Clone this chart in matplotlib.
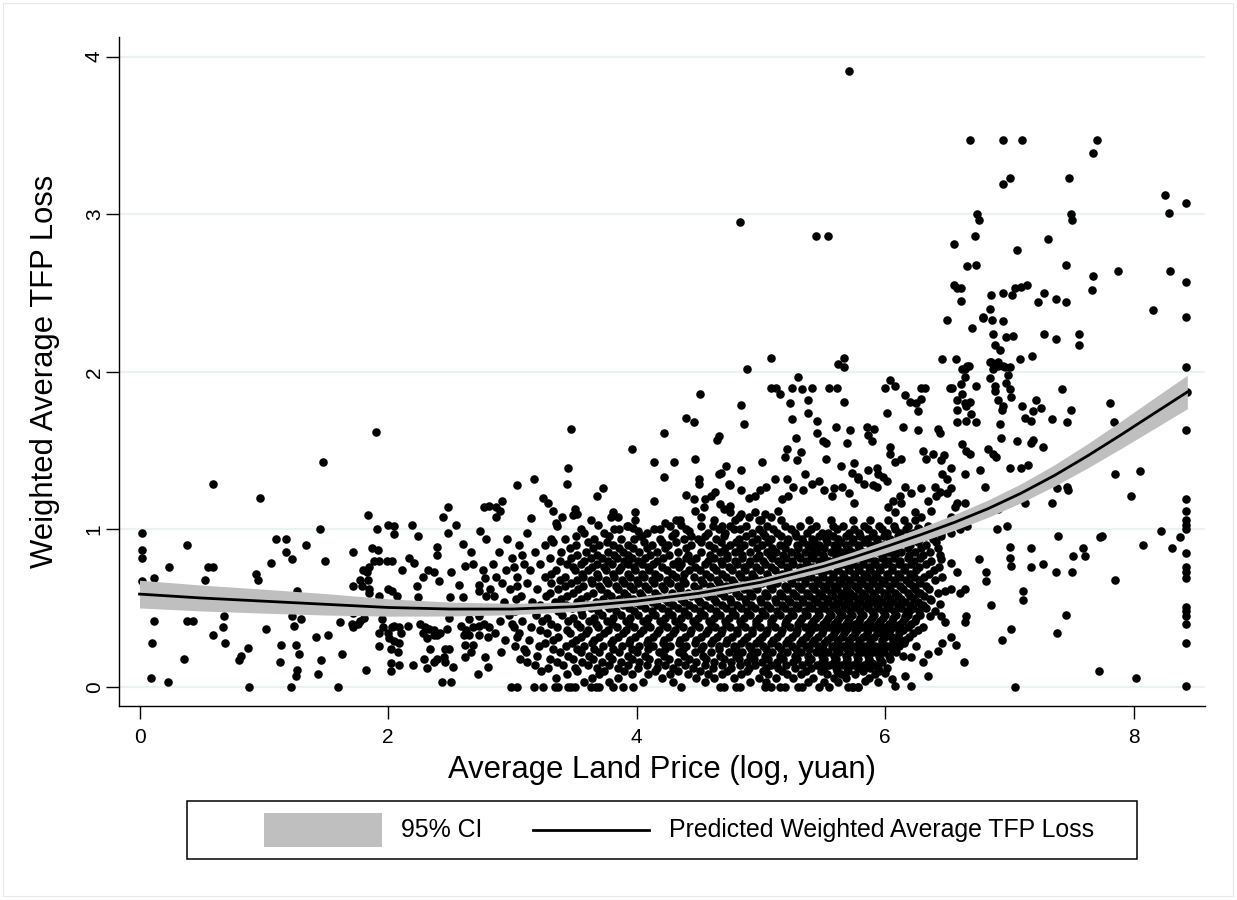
import matplotlib
matplotlib.use("Agg")
import matplotlib.pyplot as plt
from matplotlib.patches import Rectangle
from matplotlib.lines import Line2D

plt.rcParams["font.family"] = ["Liberation Sans", "DejaVu Sans"]

# ---- data ------------------------------------------------------------------

# sparse points above y ~ 1.9
upper_pts = [
    (5.71, 3.91), (4.83, 2.95), (5.44, 2.86), (5.54, 2.86), (5.08, 2.09), (4.89, 2.02),
    (5.67, 2.09), (5.62, 2.05), (5.67, 2.03), (6.68, 3.47), (6.95, 3.47), (7.10, 3.47),
    (7.70, 3.47), (7.67, 3.39), (7.00, 3.23), (6.95, 3.19), (7.48, 3.23), (8.25, 3.12),
    (8.42, 3.07), (8.28, 3.01), (6.74, 3.00), (6.75, 2.96), (7.49, 3.00), (7.50, 2.96),
    (6.72, 2.86), (6.55, 2.81), (7.31, 2.84), (7.06, 2.77), (6.66, 2.67), (6.73, 2.68),
    (7.45, 2.68), (7.87, 2.64), (8.29, 2.64), (7.67, 2.61), (8.42, 2.57), (6.55, 2.55),
    (6.58, 2.53), (6.61, 2.53), (6.61, 2.45), (6.85, 2.49), (6.95, 2.50), (7.02, 2.49),
    (7.04, 2.53), (7.09, 2.54), (7.14, 2.55), (7.28, 2.50), (7.23, 2.44), (7.37, 2.46),
    (7.45, 2.44), (7.66, 2.52), (8.15, 2.39), (8.42, 2.35), (6.50, 2.33), (6.70, 2.28),
    (6.84, 2.40), (6.79, 2.35), (6.79, 2.34), (6.86, 2.33), (6.95, 2.32), (6.87, 2.24),
    (6.97, 2.22), (7.03, 2.23), (7.28, 2.24), (7.37, 2.21), (7.56, 2.24), (7.56, 2.17),
    (6.88, 2.17), (6.92, 2.14), (6.46, 2.08), (6.57, 2.08), (6.67, 2.04), (6.64, 2.02),
    (6.85, 2.06), (6.91, 2.06), (6.95, 2.04), (7.00, 2.03), (7.08, 2.08), (7.18, 2.10),
    (8.42, 2.03),
]

# points with x below ~2.85
left_pts = [
    (1.90, 1.62), (1.48, 1.43), (0.59, 1.29), (0.97, 1.20), (1.84, 1.09), (0.02, 0.98),
    (1.45, 1.00), (1.91, 1.00), (2.00, 1.03), (2.05, 1.02), (2.05, 0.97), (2.19, 1.03),
    (2.24, 0.96), (2.44, 1.08), (2.48, 1.14), (2.55, 1.03), (2.48, 0.98), (2.74, 0.99),
    (2.77, 1.14), (2.81, 1.15), (2.79, 0.94), (0.02, 0.87), (0.02, 0.82), (0.02, 0.67),
    (0.12, 0.69), (0.38, 0.90), (0.24, 0.76), (0.55, 0.76), (0.59, 0.76), (0.53, 0.68),
    (0.94, 0.72), (0.95, 0.68), (1.06, 0.79), (1.10, 0.94), (1.18, 0.94), (1.18, 0.86),
    (1.23, 0.81), (1.34, 0.90), (1.49, 0.80), (1.72, 0.86), (1.87, 0.88), (1.92, 0.87),
    (1.89, 0.80), (1.93, 0.80), (1.99, 0.80), (2.03, 0.80), (1.85, 0.76), (1.80, 0.74),
    (1.83, 0.73), (1.77, 0.68), (1.84, 0.68), (1.72, 0.64), (1.79, 0.64), (1.85, 0.62),
    (1.85, 0.60), (1.93, 0.58), (2.00, 0.62), (2.03, 0.61), (2.11, 0.74), (2.17, 0.82),
    (2.21, 0.79), (2.23, 0.64), (2.24, 0.57), (2.28, 0.70), (2.32, 0.74), (2.37, 0.73),
    (2.39, 0.89), (2.39, 0.84), (2.41, 0.67), (2.51, 0.73), (2.50, 0.57), (2.57, 0.65),
    (2.60, 0.57), (2.60, 0.91), (2.67, 0.86), (2.62, 0.77), (2.68, 0.78), (2.76, 0.74),
    (2.78, 0.69), (2.73, 0.65), (2.73, 0.61), (2.79, 0.58), (2.82, 0.62), (2.07, 0.58),
    (1.27, 0.61),
    (0.12, 0.42), (0.10, 0.28), (0.09, 0.06), (0.23, 0.03), (0.36, 0.18), (0.38, 0.42),
    (0.43, 0.42), (0.68, 0.45), (0.67, 0.38), (0.59, 0.33), (0.69, 0.28), (0.87, 0.25),
    (0.82, 0.20), (0.80, 0.17), (0.88, 0.00), (1.02, 0.37), (1.23, 0.45), (1.24, 0.39),
    (1.30, 0.43), (1.14, 0.27), (1.13, 0.16), (1.26, 0.27), (1.28, 0.21), (1.27, 0.11),
    (1.26, 0.07), (1.22, 0.00), (1.42, 0.32), (1.52, 0.33), (1.46, 0.17), (1.44, 0.08),
    (1.60, 0.00), (1.61, 0.41), (1.63, 0.21), (1.72, 0.47), (1.71, 0.40), (1.72, 0.38),
    (1.76, 0.40), (1.77, 0.42), (1.81, 0.44), (1.82, 0.11), (1.95, 0.43), (1.96, 0.38),
    (1.93, 0.34), (1.93, 0.26), (2.00, 0.34), (2.01, 0.31), (2.05, 0.39), (2.03, 0.38),
    (2.09, 0.38), (2.10, 0.34), (2.05, 0.29), (2.09, 0.28), (2.16, 0.39), (2.02, 0.24),
    (2.08, 0.22), (2.02, 0.15), (2.02, 0.10), (2.09, 0.14), (2.20, 0.14), (2.26, 0.40),
    (2.30, 0.38), (2.33, 0.37), (2.37, 0.36), (2.42, 0.34), (2.28, 0.34), (2.31, 0.31),
    (2.37, 0.33), (2.39, 0.33), (2.47, 0.37), (2.34, 0.24), (2.29, 0.18), (2.31, 0.12),
    (2.37, 0.16), (2.39, 0.18), (2.46, 0.24), (2.49, 0.24), (2.45, 0.19), (2.46, 0.16),
    (2.52, 0.13), (2.43, 0.03), (2.51, 0.03), (2.49, 0.44), (2.59, 0.39), (2.61, 0.33),
    (2.63, 0.36), (2.65, 0.43), (2.68, 0.38), (2.65, 0.33), (2.62, 0.27), (2.68, 0.27),
    (2.67, 0.22), (2.62, 0.19), (2.73, 0.45), (2.73, 0.39), (2.77, 0.40), (2.81, 0.38),
    (2.73, 0.33), (2.80, 0.32), (2.78, 0.19), (2.80, 0.13), (2.72, 0.08),
]

# sparse points above the dense cloud, x 2.85 to 6.7
mid_pts = [
    (5.30, 1.97), (5.08, 1.90), (5.12, 1.90), (5.15, 1.86), (5.25, 1.90), (5.33, 1.89),
    (5.41, 1.90), (5.55, 1.90), (5.61, 1.90), (4.51, 1.86), (4.84, 1.79), (4.86, 1.67),
    (5.23, 1.80), (5.38, 1.82), (5.38, 1.74), (5.67, 1.81), (4.40, 1.71), (4.46, 1.68),
    (5.25, 1.70), (5.45, 1.69), (5.60, 1.65), (5.72, 1.63), (3.47, 1.64), (4.22, 1.61),
    (4.66, 1.59), (4.65, 1.57), (5.28, 1.58), (5.45, 1.61), (5.50, 1.56), (5.52, 1.55),
    (5.69, 1.55), (3.96, 1.51), (5.21, 1.51), (5.19, 1.46), (5.32, 1.49), (5.29, 1.44),
    (5.52, 1.45), (4.14, 1.43), (4.30, 1.43), (4.47, 1.45), (5.01, 1.43), (4.72, 1.40),
    (4.68, 1.36), (4.66, 1.35), (4.84, 1.38), (5.64, 1.40), (5.75, 1.42), (3.45, 1.39),
    (3.44, 1.29), (3.17, 1.32), (3.04, 1.28), (3.15, 1.07), (3.73, 1.26), (3.68, 1.21),
    (4.22, 1.33), (4.50, 1.32), (4.50, 1.29), (4.74, 1.29), (4.75, 1.28), (4.84, 1.25),
    (4.14, 1.18), (4.40, 1.22), (4.46, 1.19), (2.92, 1.18), (2.87, 1.14), (2.87, 1.08),
    (2.90, 1.12), (3.25, 1.20), (3.29, 1.17), (3.33, 1.12), (3.40, 1.08), (3.35, 1.04),
    (3.31, 0.94), (3.50, 1.13), (3.52, 1.10), (3.49, 1.09), (3.63, 1.06), (3.69, 1.03),
    (3.81, 1.11), (3.79, 1.08), (3.85, 1.08), (3.99, 1.11), (3.99, 1.06), (3.93, 1.02),
    (3.97, 1.01), (4.01, 0.99), (4.04, 0.96), (3.82, 1.00), (4.23, 1.04), (4.32, 1.06),
    (4.36, 1.03), (4.42, 0.99), (4.14, 1.00), (4.47, 1.12), (4.52, 1.08), (4.54, 1.14),
    (4.55, 1.19), (4.60, 1.21), (4.63, 1.24), (4.67, 1.16), (4.70, 1.13), (4.75, 1.15),
    (4.75, 1.11), (4.52, 1.02), (4.69, 1.02), (4.75, 1.02), (4.78, 1.00), (4.82, 1.08),
    (4.84, 1.10), (4.90, 1.20), (4.95, 1.21), (4.99, 1.25), (5.04, 1.27), (5.11, 1.32),
    (4.95, 1.11), (4.90, 1.08), (4.98, 1.06), (5.03, 1.10), (5.08, 1.08), (5.14, 1.12),
    (5.17, 1.19), (5.22, 1.21), (5.26, 1.27), (5.21, 1.32), (5.34, 1.25), (5.35, 1.35),
    (5.41, 1.29), (5.47, 1.31), (5.51, 1.25), (5.57, 1.21), (5.59, 1.26), (5.65, 1.27),
    (5.71, 1.23), (5.75, 1.17), (5.78, 1.32),
    (6.00, 1.90), (6.04, 1.95), (6.08, 1.91), (6.29, 1.90), (6.32, 1.90), (6.52, 1.90),
    (6.54, 1.90), (6.62, 2.02), (6.66, 2.04), (6.64, 1.97), (6.61, 1.92), (6.62, 1.86),
    (6.73, 1.91), (6.84, 2.06), (6.87, 2.02), (6.91, 2.04), (6.96, 2.03), (6.99, 1.98),
    (6.97, 1.93), (6.88, 1.91), (6.84, 1.96), (6.16, 1.85), (6.20, 1.81), (6.25, 1.80),
    (6.29, 1.83), (6.26, 1.75), (6.01, 1.74), (6.58, 1.82), (6.64, 1.80), (6.68, 1.81),
    (6.65, 1.78), (6.69, 1.73), (6.58, 1.76), (6.65, 1.69), (6.73, 1.68), (6.58, 1.68),
    (6.88, 1.88), (6.91, 1.82), (6.95, 1.78), (5.85, 1.65), (5.91, 1.64), (5.86, 1.60),
    (5.89, 1.56), (6.14, 1.65), (6.26, 1.63), (6.42, 1.64), (6.44, 1.61), (6.62, 1.54),
    (6.65, 1.50), (6.68, 1.48), (6.83, 1.51), (6.87, 1.48), (6.89, 1.46), (6.76, 1.38),
    (6.64, 1.35), (6.53, 1.39), (6.46, 1.35), (6.50, 1.32), (6.45, 1.44), (6.47, 1.47),
    (6.38, 1.48), (6.30, 1.50), (6.33, 1.45), (6.04, 1.52), (6.04, 1.48), (6.08, 1.43),
    (6.13, 1.45), (5.93, 1.39), (5.94, 1.35), (5.98, 1.33), (6.01, 1.31), (5.86, 1.38),
    (5.73, 1.36), (5.78, 1.33), (5.83, 1.29), (5.90, 1.28), (5.93, 1.27),
    (6.53, 1.26), (6.58, 1.17), (6.64, 1.17), (6.56, 1.14), (6.50, 1.23), (6.40, 1.27),
    (6.44, 1.24), (6.41, 1.21), (6.34, 1.18), (6.29, 1.26), (6.21, 1.23), (6.16, 1.27),
    (6.12, 1.21), (6.06, 1.18), (6.02, 1.14), (6.08, 1.11), (6.13, 1.17), (6.24, 1.11),
    (6.29, 1.08), (6.37, 1.12), (6.53, 1.08), (6.61, 1.07), (6.66, 1.02), (6.60, 1.00),
    (6.53, 0.98), (6.45, 0.98), (6.40, 1.00), (6.34, 1.02), (6.26, 1.01),
]

# points right of the cloud, x above ~6.3
right_pts = [
    (7.42, 1.89), (8.43, 1.87), (7.81, 1.80), (7.84, 1.68), (8.42, 1.63), (7.49, 1.76),
    (7.46, 1.68), (7.34, 1.70), (7.21, 1.82), (7.25, 1.77), (7.19, 1.75), (7.17, 1.69),
    (7.12, 1.71), (7.10, 1.78), (7.01, 1.84), (6.94, 1.76), (7.00, 1.89), (6.92, 1.67),
    (6.93, 1.58), (7.06, 1.56), (7.17, 1.55), (7.19, 1.57), (7.27, 1.52), (7.15, 1.41),
    (7.09, 1.39), (7.00, 1.39), (7.85, 1.35), (8.05, 1.37), (7.98, 1.21), (8.42, 1.19),
    (8.42, 1.12), (8.42, 1.06), (8.42, 1.03), (8.42, 1.00), (8.37, 0.95), (8.31, 0.88),
    (8.22, 0.99), (8.07, 0.90), (8.42, 0.85), (8.42, 0.76), (8.42, 0.73), (8.42, 0.69),
    (8.42, 0.51), (8.42, 0.48), (8.42, 0.45), (8.42, 0.40), (8.42, 0.28), (8.42, 0.01),
    (7.74, 0.96), (7.73, 0.95), (7.85, 0.68), (8.02, 0.06), (7.72, 0.10), (7.45, 0.46),
    (7.38, 0.34), (7.39, 0.96), (7.34, 1.17), (7.46, 1.27), (7.47, 1.25), (7.38, 1.26),
    (7.17, 0.88), (7.17, 0.76), (7.27, 0.78), (7.37, 0.73), (7.50, 0.73), (7.51, 0.83),
    (7.59, 0.88), (7.61, 0.83), (7.00, 0.89), (7.00, 0.82), (7.01, 0.77), (7.11, 0.61),
    (7.11, 0.55), (6.98, 1.02), (6.90, 1.00), (6.85, 0.52), (6.81, 0.73), (6.81, 0.67),
    (6.75, 0.81), (7.01, 0.37), (6.94, 0.30), (7.04, 0.00), (7.12, 1.17), (6.80, 1.27),
    (6.91, 1.13), (6.76, 1.10), (6.63, 0.16), (6.65, 0.45), (6.64, 0.41),
    (6.45, 0.81), (6.53, 0.79), (6.58, 0.73), (6.46, 0.70), (6.53, 0.62), (6.48, 0.61),
    (6.64, 0.62), (6.60, 0.60), (6.44, 0.53), (6.37, 0.55), (6.36, 0.45), (6.45, 0.45),
    (6.48, 0.41), (6.53, 0.32), (6.57, 0.27), (6.46, 0.28), (6.42, 0.23), (6.34, 0.21),
    (6.30, 0.16), (6.34, 0.07), (6.21, 0.01), (6.08, 0.01), (6.16, 0.07), (6.05, 0.05),
    (6.00, 0.09), (5.94, 0.12), (5.89, 0.15), (5.84, 0.04), (5.78, 0.00), (5.73, 0.00),
    (6.21, 0.19), (6.25, 0.26), (6.13, 0.28), (6.05, 0.32), (5.97, 0.34), (6.09, 0.39),
    (6.16, 0.45), (6.20, 0.49), (6.29, 0.52), (6.26, 0.60),
]

# observations sitting on zero
zero_x = [2.99, 3.04, 3.17, 3.25, 3.34, 3.37, 3.45, 3.47, 3.50, 3.63, 3.67, 3.70,
          3.81, 3.89, 3.97, 4.36, 4.67, 4.70, 4.80, 4.83, 5.03, 5.08, 5.15, 5.19,
          5.30, 5.33, 5.47, 5.55, 5.70, 5.74, 5.78]

# the dense cloud, estimated row by row (y level -> x positions)
cloud_y = [1.02, 0.98, 0.94, 0.90, 0.86, 0.82, 0.78, 0.74, 0.70, 0.66, 0.62, 0.58,
           0.54, 0.50, 0.46, 0.42, 0.38, 0.34, 0.30, 0.26, 0.22, 0.18, 0.14, 0.10, 0.06]
cloud_x = [
    [3.36, 3.92, 4.27, 4.61, 4.88, 5.05, 5.19, 5.31, 5.44, 5.58, 5.66, 5.83, 5.95, 6.07, 6.18],
    [3.12, 3.58, 3.74, 4.08, 4.31, 4.57, 4.71, 4.93, 5.02, 5.13, 5.27, 5.37, 5.49, 5.54, 5.71,
     5.79, 5.90, 6.01, 6.12, 6.22, 6.31],
    [2.96, 3.42, 3.66, 3.87, 3.98, 4.19, 4.38, 4.49, 4.64, 4.82, 4.97, 5.08, 5.22, 5.33, 5.41,
     5.52, 5.62, 5.74, 5.85, 5.93, 6.04, 6.16, 6.27, 6.38],
    [3.05, 3.26, 3.51, 3.70, 3.81, 3.93, 4.12, 4.25, 4.44, 4.58, 4.75, 4.86, 5.01, 5.15, 5.29,
     5.38, 5.47, 5.59, 5.68, 5.78, 5.88, 5.98, 6.09, 6.20, 6.33],
    [2.89, 3.18, 3.39, 3.59, 3.77, 3.89, 4.02, 4.16, 4.33, 4.52, 4.67, 4.79, 4.91, 5.05, 5.12,
     5.24, 5.35, 5.45, 5.56, 5.65, 5.73, 5.83, 5.94, 6.03, 6.13, 6.24, 6.36],
    [3.00, 3.30, 3.47, 3.63, 3.72, 3.84, 3.96, 4.07, 4.21, 4.40, 4.48, 4.62, 4.73, 4.85, 4.96,
     5.09, 5.20, 5.31, 5.42, 5.51, 5.60, 5.69, 5.77, 5.87, 5.97, 6.07, 6.18, 6.28],
    [2.84, 3.09, 3.22, 3.44, 3.55, 3.68, 3.80, 3.93, 4.04, 4.13, 4.29, 4.36, 4.55, 4.69, 4.81,
     4.90, 5.03, 5.16, 5.26, 5.37, 5.48, 5.57, 5.66, 5.74, 5.82, 5.91, 6.00, 6.11, 6.21, 6.33],
    [2.95, 3.14, 3.35, 3.50, 3.61, 3.75, 3.86, 3.99, 4.10, 4.24, 4.42, 4.51, 4.64, 4.77, 4.87,
     4.99, 5.11, 5.22, 5.34, 5.44, 5.53, 5.62, 5.71, 5.79, 5.88, 5.96, 6.05, 6.15, 6.25, 6.39],
    [2.87, 3.04, 3.26, 3.42, 3.57, 3.69, 3.82, 3.95, 4.06, 4.18, 4.32, 4.46, 4.59, 4.72, 4.84,
     4.94, 5.06, 5.18, 5.30, 5.40, 5.50, 5.58, 5.67, 5.76, 5.85, 5.93, 6.02, 6.12, 6.23, 6.31],
    [2.92, 3.12, 3.31, 3.47, 3.64, 3.77, 3.90, 4.01, 4.14, 4.27, 4.39, 4.53, 4.66, 4.78, 4.89,
     5.01, 5.13, 5.25, 5.35, 5.46, 5.55, 5.64, 5.72, 5.81, 5.90, 5.99, 6.08, 6.19, 6.28],
    [2.98, 3.20, 3.37, 3.53, 3.71, 3.85, 3.97, 4.09, 4.22, 4.35, 4.49, 4.61, 4.74, 4.86, 4.97,
     5.09, 5.21, 5.32, 5.43, 5.52, 5.61, 5.69, 5.78, 5.87, 5.95, 6.04, 6.14, 6.24, 6.35],
    [2.85, 3.07, 3.27, 3.44, 3.60, 3.79, 3.92, 4.04, 4.17, 4.30, 4.44, 4.57, 4.70, 4.82, 4.93,
     5.05, 5.17, 5.28, 5.39, 5.49, 5.58, 5.66, 5.75, 5.84, 5.92, 6.01, 6.10, 6.20, 6.31],
    [2.93, 3.16, 3.34, 3.52, 3.67, 3.83, 3.99, 4.12, 4.25, 4.38, 4.51, 4.64, 4.76, 4.88, 5.00,
     5.12, 5.23, 5.34, 5.45, 5.54, 5.63, 5.71, 5.80, 5.89, 5.97, 6.06, 6.16, 6.26],
    [2.88, 3.10, 3.29, 3.48, 3.63, 3.78, 3.94, 4.07, 4.20, 4.33, 4.46, 4.59, 4.72, 4.84, 4.95,
     5.07, 5.19, 5.30, 5.41, 5.51, 5.60, 5.68, 5.77, 5.86, 5.94, 6.03, 6.13, 6.22, 6.33],
    [2.97, 3.19, 3.40, 3.56, 3.72, 3.87, 4.01, 4.15, 4.28, 4.41, 4.54, 4.67, 4.79, 4.91, 5.03,
     5.15, 5.26, 5.37, 5.47, 5.56, 5.65, 5.73, 5.82, 5.91, 6.00, 6.09, 6.18, 6.28],
    [2.90, 3.08, 3.24, 3.45, 3.62, 3.76, 3.91, 4.05, 4.19, 4.31, 4.45, 4.58, 4.71, 4.83, 4.96,
     5.08, 5.20, 5.31, 5.42, 5.52, 5.61, 5.70, 5.79, 5.88, 5.96, 6.05, 6.14, 6.24],
    [3.01, 3.15, 3.36, 3.54, 3.69, 3.84, 3.98, 4.11, 4.24, 4.37, 4.50, 4.63, 4.75, 4.87, 4.99,
     5.11, 5.23, 5.35, 5.44, 5.55, 5.64, 5.72, 5.81, 5.90, 5.99, 6.08, 6.18, 6.30],
    [2.86, 3.05, 3.28, 3.46, 3.59, 3.74, 3.89, 4.03, 4.16, 4.29, 4.43, 4.56, 4.68, 4.81, 4.93,
     5.04, 5.16, 5.28, 5.39, 5.49, 5.59, 5.67, 5.76, 5.85, 5.93, 6.02, 6.11, 6.22],
    [2.94, 3.13, 3.33, 3.51, 3.66, 3.81, 3.95, 4.09, 4.22, 4.35, 4.48, 4.61, 4.73, 4.86, 4.98,
     5.10, 5.22, 5.33, 5.43, 5.53, 5.62, 5.71, 5.79, 5.88, 5.97, 6.06, 6.16],
    [3.02, 3.21, 3.43, 3.58, 3.73, 3.88, 4.02, 4.13, 4.27, 4.40, 4.53, 4.66, 4.78, 4.90, 5.02,
     5.14, 5.25, 5.36, 5.46, 5.57, 5.66, 5.74, 5.83, 5.92, 6.01, 6.11],
    [2.91, 3.11, 3.38, 3.55, 3.70, 3.86, 4.00, 4.18, 4.34, 4.47, 4.60, 4.74, 4.85, 4.97, 5.09,
     5.21, 5.32, 5.44, 5.54, 5.63, 5.72, 5.81, 5.90, 5.99, 6.09],
    [3.06, 3.30, 3.49, 3.65, 3.80, 3.96, 4.10, 4.26, 4.42, 4.56, 4.70, 4.82, 4.94, 5.06, 5.18,
     5.29, 5.40, 5.51, 5.60, 5.69, 5.78, 5.87, 5.96, 6.04],
    [3.18, 3.41, 3.61, 3.78, 3.93, 4.08, 4.23, 4.39, 4.55, 4.69, 4.83, 4.95, 5.08, 5.20, 5.33,
     5.45, 5.55, 5.64, 5.73, 5.83, 5.92],
    [3.23, 3.52, 3.74, 3.90, 4.15, 4.33, 4.51, 4.73, 4.89, 5.02, 5.17, 5.36, 5.48, 5.61, 5.70,
     5.82, 5.95],
    [3.35, 3.64, 3.85, 4.20, 4.48, 4.62, 4.78, 4.98, 5.12, 5.26, 5.42, 5.59, 5.68, 5.87],
]

# second, staggered pass over the cloud where it is densest
cloud2_y = [1.06, 1.00, 0.96, 0.92, 0.88, 0.84, 0.80, 0.76, 0.72, 0.68, 0.64, 0.60,
            0.56, 0.52, 0.48, 0.44, 0.40, 0.36, 0.32, 0.28, 0.24, 0.20, 0.16, 0.12,
            0.08, 0.03]
cloud2_x = [
    [4.35, 4.62, 4.79, 5.00, 5.16, 5.39, 5.56, 5.74, 5.88, 6.02, 6.15, 6.24],
    [3.55, 3.86, 4.19, 4.40, 4.66, 4.83, 4.98, 5.10, 5.24, 5.40, 5.61, 5.75, 5.86, 5.97, 6.08,
     6.17, 6.27],
    [3.51, 3.78, 4.03, 4.28, 4.44, 4.55, 4.70, 4.88, 5.03, 5.16, 5.28, 5.47, 5.58, 5.68, 5.80,
     5.89, 5.99, 6.10, 6.21, 6.32, 6.45],
    [3.33, 3.61, 3.76, 4.06, 4.20, 4.32, 4.52, 4.68, 4.80, 4.93, 5.06, 5.21, 5.34, 5.43, 5.53,
     5.64, 5.73, 5.83, 5.93, 6.04, 6.14, 6.26, 6.41],
    [3.46, 3.65, 3.86, 3.97, 4.08, 4.23, 4.40, 4.62, 4.71, 4.83, 4.97, 5.09, 5.19, 5.30, 5.41,
     5.51, 5.61, 5.70, 5.79, 5.89, 5.99, 6.08, 6.18, 6.29, 6.42],
    [3.08, 3.52, 3.68, 3.82, 3.93, 4.11, 4.26, 4.41, 4.59, 4.73, 4.85, 4.98, 5.07, 5.18, 5.29,
     5.40, 5.50, 5.60, 5.68, 5.78, 5.88, 5.98, 6.08, 6.19, 6.30, 6.44],
    [3.38, 3.58, 3.77, 3.90, 4.01, 4.16, 4.33, 4.44, 4.57, 4.68, 4.79, 4.91, 5.02, 5.14, 5.25,
     5.36, 5.47, 5.55, 5.64, 5.73, 5.82, 5.92, 6.02, 6.12, 6.23, 6.37],
    [3.01, 3.49, 3.64, 3.74, 3.87, 3.98, 4.09, 4.20, 4.34, 4.47, 4.61, 4.74, 4.86, 4.96, 5.08,
     5.21, 5.31, 5.42, 5.53, 5.61, 5.70, 5.78, 5.87, 5.95, 6.05, 6.16, 6.27, 6.43],
    [3.31, 3.56, 3.68, 3.81, 3.93, 4.04, 4.15, 4.28, 4.38, 4.56, 4.69, 4.82, 4.93, 5.05, 5.17,
     5.28, 5.39, 5.49, 5.58, 5.66, 5.75, 5.83, 5.92, 6.01, 6.10, 6.20, 6.35],
    [3.38, 3.52, 3.63, 3.75, 3.88, 4.00, 4.12, 4.24, 4.37, 4.52, 4.65, 4.77, 4.89, 5.00, 5.12,
     5.24, 5.35, 5.45, 5.55, 5.63, 5.71, 5.80, 5.89, 5.97, 6.07, 6.17, 6.27, 6.40],
    [3.04, 3.42, 3.57, 3.70, 3.83, 3.95, 4.07, 4.20, 4.33, 4.46, 4.59, 4.72, 4.84, 4.95, 5.07,
     5.19, 5.30, 5.41, 5.50, 5.59, 5.68, 5.76, 5.85, 5.94, 6.03, 6.12, 6.22, 6.33],
    [3.30, 3.49, 3.65, 3.76, 3.90, 4.03, 4.15, 4.28, 4.41, 4.54, 4.67, 4.80, 4.91, 5.03, 5.15,
     5.26, 5.37, 5.47, 5.56, 5.64, 5.72, 5.81, 5.90, 5.99, 6.08, 6.18, 6.28, 6.42],
    [3.03, 3.39, 3.55, 3.73, 3.86, 3.97, 4.10, 4.23, 4.36, 4.49, 4.62, 4.75, 4.87, 4.99, 5.11,
     5.22, 5.33, 5.43, 5.53, 5.61, 5.69, 5.78, 5.86, 5.95, 6.04, 6.13, 6.23, 6.36],
    [3.22, 3.43, 3.60, 3.75, 3.89, 4.03, 4.16, 4.29, 4.42, 4.55, 4.69, 4.81, 4.92, 5.05, 5.17,
     5.28, 5.39, 5.49, 5.58, 5.67, 5.75, 5.84, 5.93, 6.01, 6.10, 6.20, 6.30],
    [3.02, 3.37, 3.55, 3.69, 3.83, 3.98, 4.12, 4.25, 4.38, 4.51, 4.64, 4.77, 4.89, 5.01, 5.13,
     5.24, 5.35, 5.46, 5.55, 5.63, 5.72, 5.80, 5.89, 5.98, 6.07, 6.17, 6.27, 6.40],
    [3.28, 3.49, 3.66, 3.81, 3.95, 4.09, 4.23, 4.36, 4.49, 4.62, 4.74, 4.86, 4.98, 5.10, 5.22,
     5.33, 5.44, 5.54, 5.63, 5.71, 5.80, 5.89, 5.98, 6.06, 6.16, 6.25],
    [3.00, 3.31, 3.52, 3.67, 3.80, 3.94, 4.08, 4.21, 4.34, 4.47, 4.60, 4.72, 4.84, 4.96, 5.08,
     5.19, 5.30, 5.40, 5.50, 5.59, 5.68, 5.76, 5.85, 5.94, 6.03, 6.12, 6.21],
    [3.22, 3.44, 3.61, 3.77, 3.91, 4.05, 4.18, 4.31, 4.44, 4.57, 4.69, 4.81, 4.93, 5.05, 5.17,
     5.29, 5.40, 5.50, 5.60, 5.68, 5.77, 5.86, 5.95, 6.04, 6.14, 6.26],
    [3.04, 3.37, 3.55, 3.70, 3.85, 3.99, 4.13, 4.26, 4.39, 4.52, 4.65, 4.77, 4.89, 5.01, 5.13,
     5.25, 5.36, 5.46, 5.56, 5.65, 5.73, 5.82, 5.91, 6.00, 6.10, 6.19],
    [3.26, 3.48, 3.64, 3.79, 3.94, 4.08, 4.21, 4.34, 4.47, 4.60, 4.72, 4.84, 4.96, 5.08, 5.20,
     5.31, 5.41, 5.51, 5.61, 5.70, 5.79, 5.88, 5.97, 6.06, 6.15],
    [3.09, 3.33, 3.52, 3.66, 3.81, 3.96, 4.09, 4.23, 4.37, 4.52, 4.66, 4.80, 4.92, 5.04, 5.16,
     5.28, 5.39, 5.50, 5.60, 5.69, 5.78, 5.87, 5.96, 6.05],
    [3.20, 3.45, 3.62, 3.78, 3.93, 4.07, 4.22, 4.38, 4.53, 4.67, 4.80, 4.91, 5.03, 5.15, 5.27,
     5.38, 5.49, 5.59, 5.68, 5.77, 5.86, 5.95, 6.03, 6.14],
    [3.12, 3.36, 3.56, 3.72, 3.87, 4.02, 4.17, 4.33, 4.48, 4.62, 4.76, 4.89, 5.01, 5.13, 5.26,
     5.38, 5.49, 5.59, 5.68, 5.77, 5.86, 5.97],
    [3.29, 3.50, 3.68, 3.85, 4.01, 4.16, 4.29, 4.45, 4.61, 4.76, 4.90, 5.04, 5.14, 5.27, 5.40,
     5.51, 5.60, 5.69, 5.78, 5.88, 6.01],
    [3.44, 3.70, 3.96, 4.09, 4.27, 4.41, 4.57, 4.69, 4.84, 5.06, 5.21, 5.32, 5.53, 5.64, 5.76,
     5.92],
    [3.58, 3.78, 4.05, 4.29, 4.55, 4.91, 5.04, 5.38, 5.51, 5.62, 5.94],
]

# fitted curve and its 95% band
fit_x = [0, 0.5, 1, 1.5, 2, 2.5, 3, 3.5, 4, 4.5, 5, 5.5, 5.75, 6.02, 6.29, 6.56,
         6.83, 7.09, 7.36, 7.63, 7.90, 8.16, 8.43]
fit_y = [0.59, 0.565, 0.545, 0.525, 0.505, 0.495, 0.495, 0.51, 0.545, 0.595, 0.665,
         0.765, 0.825, 0.895, 0.968, 1.046, 1.133, 1.229, 1.342, 1.468, 1.602, 1.735, 1.872]
ci_lo = [0.502, 0.483, 0.469, 0.457, 0.450, 0.451, 0.459, 0.480, 0.518, 0.569, 0.638,
         0.733, 0.789, 0.855, 0.923, 0.996, 1.078, 1.169, 1.274, 1.391, 1.515, 1.638, 1.766]
ci_hi = [0.678, 0.647, 0.621, 0.593, 0.560, 0.539, 0.531, 0.540, 0.572, 0.621, 0.692,
         0.797, 0.861, 0.935, 1.013, 1.096, 1.188, 1.289, 1.410, 1.545, 1.689, 1.832, 1.978]

x_ticks = [0, 2, 4, 6, 8]
y_ticks = [0, 1, 2, 3, 4]
x_label = "Average Land Price (log, yuan)"
y_label = "Weighted Average TFP Loss"
legend_labels = ["95% CI", "Predicted Weighted Average TFP Loss"]

# ---- gather points ---------------------------------------------------------
pts = upper_pts + left_pts + mid_pts + right_pts
px = [p[0] for p in pts] + zero_x
py = [p[1] for p in pts] + [0.0] * len(zero_x)
for ys, xs in ((cloud_y, cloud_x), (cloud2_y, cloud2_x)):
    for yy, row in zip(ys, xs):
        px += row
        py += [yy] * len(row)

# ---- figure ----------------------------------------------------------------
W, H = 1237, 900
fig = plt.figure(figsize=(W / 100, H / 100), dpi=100)
ax = fig.add_axes([119 / W, 1 - 706 / H, (1205 - 119) / W, (706 - 37) / H])

band_color = "#BFBFBF"
ax.scatter(px, py, s=38, color="black", linewidths=0, zorder=2)
ax.fill_between(fit_x, ci_lo, ci_hi, color=band_color, linewidth=0, zorder=3)
ax.plot(fit_x, fit_y, color="black", lw=2.0, zorder=4)

ax.set_xlim(-0.165, 8.572)
ax.set_ylim(-0.12, 4.124)
ax.set_xticks(x_ticks)
ax.set_yticks(y_ticks)
ax.yaxis.grid(True, color="#EAF2F3", lw=1.6)
ax.set_axisbelow(True)

for side in ["top", "right"]:
    ax.spines[side].set_visible(False)
for side in ["left", "bottom"]:
    ax.spines[side].set_linewidth(1.0)
ax.tick_params(axis="both", direction="out", length=9.4, width=1.0, labelsize=15)
ax.tick_params(axis="x", pad=6.5)
ax.tick_params(axis="y", pad=1.5)
for lab in ax.get_yticklabels():
    lab.set_rotation(90)
    lab.set_va("center")

ax.set_xlabel(x_label, fontsize=22.3, va="baseline")
ax.xaxis.set_label_coords(0.5, -(778 - 706) / (706 - 37))
ax.set_ylabel(y_label, fontsize=22.3, va="center")
ax.yaxis.set_label_coords((45 - 119) / (1205 - 119), 0.5)

# ---- legend box, drawn in figure pixels ------------------------------------
def fx(p):
    return p / W


def fy(p):
    return 1 - p / H


fig.patches.append(Rectangle((fx(187), fy(859)), fx(1137) - fx(187), fy(801) - fy(859),
                             transform=fig.transFigure, fill=False, edgecolor="black", lw=1.1))
fig.patches.append(Rectangle((fx(264), fy(847)), fx(382) - fx(264), fy(813) - fy(847),
                             transform=fig.transFigure, facecolor=band_color, edgecolor="none"))
fig.lines.append(Line2D([fx(533), fx(649)], [fy(830), fy(830)], transform=fig.transFigure,
                        color="black", lw=2.0))
fig.text(fx(401), fy(830), legend_labels[0], fontsize=17.9, va="center", ha="left")
fig.text(fx(669), fy(830), legend_labels[1], fontsize=17.9, va="center", ha="left")

# faint outer frame of the graph region
fig.patches.append(Rectangle((fx(3), fy(896)), fx(1233) - fx(3), fy(3) - fy(896),
                             transform=fig.transFigure, fill=False, edgecolor="#E4E8EA", lw=0.8))

fig.savefig("out.png", dpi=100)
